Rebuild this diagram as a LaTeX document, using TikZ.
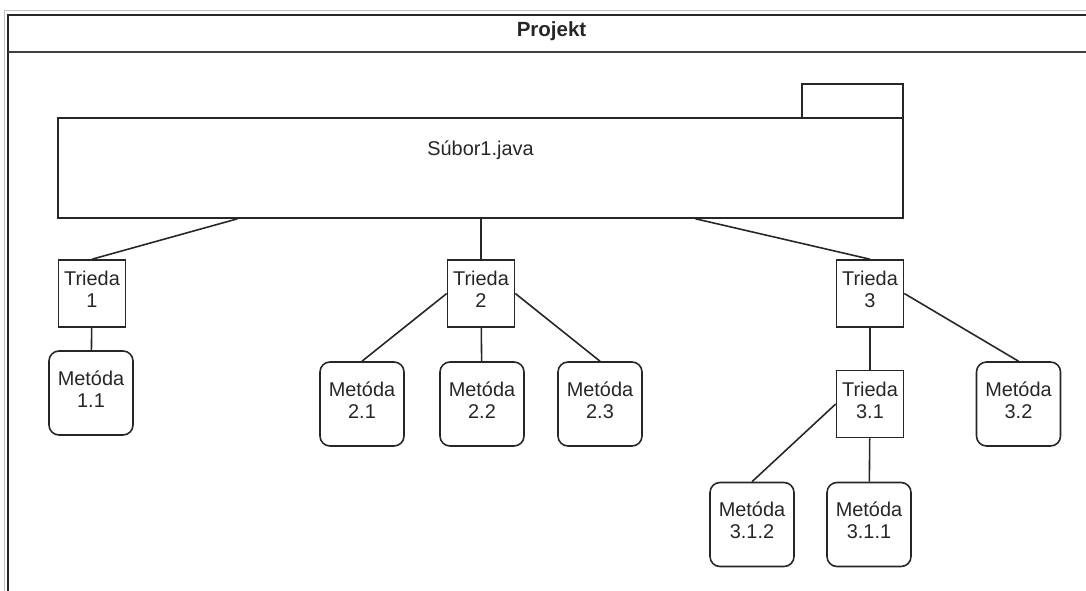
\documentclass[tikz,border=0pt]{standalone}
\usepackage{fontspec}
\setmainfont{Liberation Sans}
\usetikzlibrary{calc}
\tikzset{klass/.style={draw, minimum width=2.01cm, minimum height=2.01cm, inner sep=0pt, align=center, text depth=0.25cm},
         metoda/.style={klass, rounded corners=0.3cm, minimum width=2.52cm, minimum height=2.52cm}}

\begin{document}
\begin{tikzpicture}[x=0.03cm, y=-0.03cm, line width=1.35pt, draw=black!85, text=black!85,
                    font=\fontsize{17}{18.8}\selectfont]
                \useasboundingbox (0,0) rectangle (1086,591);
                \clip (0,0) rectangle (1086,591);
                % ramec projektu
                \draw[black!25, line width=0.7pt] (4,600) |- (1100,10);
                \draw[line width=1.7pt] (8,600) |- (1100,15);
                \draw[black!75, line width=1.8pt] (8,52) -- (1100,52);
                \node (nadpis) [anchor=base, font=\fontsize{17.5}{19}\selectfont\bfseries] at (551.5,36.5) {Projekt};
                % subor
                \node (tab) [draw, minimum width=3.03cm, minimum height=1.02cm] at (852.5,101) {};
                \node (p) [draw, fill=white, minimum width=25.35cm, minimum height=3cm] at (480.5,168) {};
                \node (meno) [anchor=base] at (480.5,156) {Súbor1.java};
                % triedy a metody
                \node (t1) [klass] at (92,293.5) {Trieda\\1};
                \node (t2) [klass] at (481,293.5) {Trieda\\2};
                \node (t3) [klass] at (870,293.5) {Trieda\\3};
                \node (t31) [klass] at (870,404) {Trieda\\3.1};
                \node (m11) [metoda] at (91,393) {Metóda\\1.1};
                \node (m21) [metoda] at (362,404) {Metóda\\2.1};
                \node (m22) [metoda] at (482,404) {Metóda\\2.2};
                \node (m23) [metoda] at (600,404) {Metóda\\2.3};
                \node (m32) [metoda] at (1018.5,404) {Metóda\\3.2};
                \node (m312) [metoda] at (752,524.5) {Metóda\\3.1.2};
                \node (m311) [metoda] at (869,524.5) {Metóda\\3.1.1};
                \draw ($(p.south west)!0.213!(p.south east)$) -- (t1.north);
                \draw (p.south -| t2.north) -- (t2.north);
                \draw ($(p.south west)!0.754!(p.south east)$) -- (t3.north);
                \draw (t1) -- (m11);
                \draw (t2.west) -- (m21.north);
                \draw (t2) -- (m22);
                \draw (t2.east) -- (m23.north);
                \draw (t3) -- (t31);
                \draw (t3.east) -- (m32.north);
                \draw (t31.west) -- (m312.north);
                \draw (t31) -- (m311);
              \end{tikzpicture}
\end{document}
